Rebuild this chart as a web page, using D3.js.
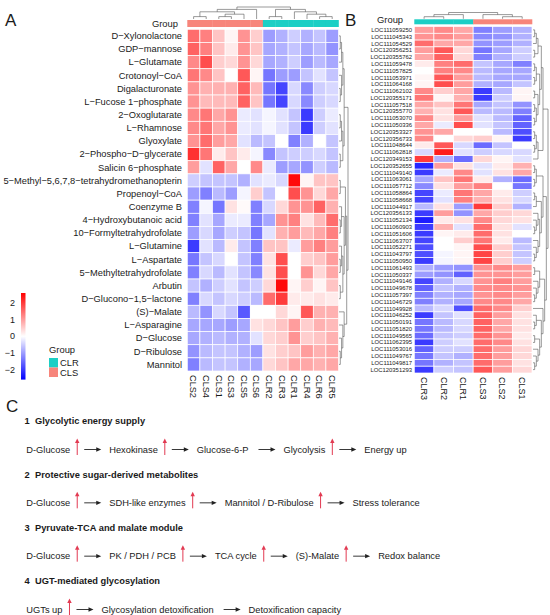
<!DOCTYPE html>
<html>
<head>
<meta charset="utf-8">
<script src="https://cdn.jsdelivr.net/npm/d3@7"></script>
<style>
  body { margin: 0; background: #fff; }
  text { font-family: "Liberation Sans", Arial, Helvetica, sans-serif; fill: #1a1a1a; }
</style>
</head>
<body>
<script>
// ---- panel A: metabolites ----
const aRows = ["D-Xylonolactone","GDP-mannose","L-Glutamate","Crotonoyl-CoA","Digalacturonate",
  "L-Fucose 1-phosphate","2-Oxoglutarate","L-Rhamnose","Glyoxylate","2-Phospho-D-glycerate",
  "Salicin 6-phosphate","5-Methyl-5,6,7,8-tetrahydromethanopterin","Propenoyl-CoA","Coenzyme B",
  "4-Hydroxybutanoic acid","10-Formyltetrahydrofolate","L-Glutamine","L-Aspartate",
  "5-Methyltetrahydrofolate","Arbutin","D-Glucono-1,5-lactone","(S)-Malate","L-Asparagine",
  "D-Glucose","D-Ribulose","Mannitol"];
const aCols = ["CLS2","CLS4","CLS1","CLS3","CLS5","CLS6","CLR2","CLR3","CLR1","CLR4","CLR6","CLR5"];
const aValues = [
  [1.5,1.3,0.6,0.1,1.1,0.5,-1.0,-0.8,-0.5,-0.8,-0.6,-1.0],
  [1.6,1.3,0.6,0.2,1.1,0.6,-0.9,-0.8,-0.6,-0.9,-0.7,-1.1],
  [1.2,1.8,0.5,0.4,1.1,0.4,-0.9,-0.8,-0.5,-1.0,-0.7,-0.9],
  [1.4,1.2,0.6,0.0,1.7,0.1,-1.4,-1.0,-1.0,-0.6,-0.3,-0.6],
  [1.1,0.8,0.8,0.8,1.6,0.7,-1.4,-1.9,-0.4,-1.2,-0.5,-0.4],
  [1.1,0.7,0.7,0.7,1.6,0.6,-1.4,-1.9,-0.4,-1.2,-0.5,-0.4],
  [1.2,1.4,0.9,1.1,-0.2,-0.3,-0.1,-0.3,-0.6,-2.0,-0.5,-0.2],
  [1.2,1.4,0.9,1.1,-0.2,-0.3,-0.1,-0.3,-0.6,-2.0,-0.5,-0.3],
  [1.1,1.5,1.0,0.9,-0.3,-0.7,-0.6,0.0,-1.3,-0.8,0.0,-0.6],
  [2.1,1.4,0.2,0.6,0.2,-0.1,-1.2,-0.6,-0.5,-0.5,-0.4,-0.6],
  [1.0,-0.3,1.6,0.9,0.0,1.2,-0.2,-1.0,-0.9,-1.1,-0.5,-0.7],
  [-0.5,-0.6,-0.6,-0.6,-0.8,-0.3,-0.2,-0.4,2.5,0.1,0.6,0.6],
  [-1.0,-1.3,-0.7,-1.0,-0.1,0.5,-0.6,0.0,1.8,1.1,0.4,0.9],
  [-1.3,-0.1,-1.4,0.3,0.05,-1.3,-0.4,0.4,1.1,1.1,1.6,0.8],
  [-1.3,-0.3,-0.9,-0.2,-0.2,-1.3,-0.9,1.1,1.3,0.3,0.7,1.5],
  [-1.0,-0.4,-0.9,-0.5,-0.6,-1.4,-0.3,0.8,1.0,0.7,0.9,1.3],
  [-2.0,-0.3,-0.7,0.2,-0.6,-1.3,0.6,0.6,-0.2,1.0,1.3,1.0],
  [-1.4,-0.6,-0.4,0.0,-0.6,-1.3,0.3,1.8,0.0,0.5,0.6,1.0],
  [-1.3,-0.4,-0.7,-0.3,-0.6,-1.2,0.3,1.8,0.0,1.1,0.4,0.9],
  [-0.6,-0.8,-0.5,-0.3,-0.6,-0.5,0.4,2.5,0.1,0.5,0.1,0.6],
  [-1.3,-0.4,-0.6,-0.4,-0.5,-0.7,1.5,2.0,0.2,0.2,0.3,0.2],
  [-0.7,-1.1,-0.4,-0.6,-1.7,0.0,0.0,0.4,0.1,1.7,0.8,0.8],
  [-0.9,-0.9,-0.9,-1.0,-0.9,0.3,0.4,0.6,1.0,0.5,0.8,0.7],
  [-0.9,-0.8,-0.7,-0.8,-0.8,-0.3,0.4,0.5,1.1,0.5,0.6,0.8],
  [-1.1,-0.7,-0.6,-0.6,-0.8,-1.0,0.3,0.5,0.6,1.0,0.8,0.9],
  [-1.3,-0.7,-0.6,-0.6,-0.8,-0.9,0.4,0.6,0.9,0.9,0.8,0.9]
];
// cluster trees (nested pairs, leaves are column names / row indices)
const aColTree = [[[["CLS2","CLS4"],[["CLS1","CLS3"],"CLS5"]],"CLS6"],
                  [["CLR2","CLR3"],["CLR1",["CLR4",["CLR6","CLR5"]]]]];
const aRowTree = [[[[[0,1],2],[3,[4,5]]],[[[6,7],8],[9,10]]],
                  [[[11,12],[[13,[14,15]],[[16,[17,18]],[19,20]]]],[21,[22,[23,[24,25]]]]]];

// ---- panel B: genes ----
const bRows = ["LOC111059250","LOC111045343","LOC111054529","LOC120356251","LOC120355762",
  "LOC111059478","LOC111057825","LOC111053971","LOC111064168","LOC111062102","LOC120355171",
  "LOC111057518","LOC120355770","LOC111053070","LOC111050336","LOC120353327","LOC120356733",
  "LOC111048644","LOC111062818","LOC120349153","LOC120352655","LOC111049140","LOC111063061",
  "LOC111057712","LOC111058864","LOC111058668","LOC111044917","LOC120356133","LOC111052134",
  "LOC111060903","LOC111051606","LOC111063707","LOC111052271","LOC111043797","LOC111050950",
  "LOC111061493","LOC111050337","LOC111049146","LOC111049678","LOC111057397","LOC111046729",
  "LOC111049928","LOC111046252","LOC111050191","LOC111051820","LOC111049565","LOC111062395",
  "LOC111053016","LOC111049767","LOC111049817","LOC120351293"];
const bCols = ["CLR3","CLR2","CLR1","CLS3","CLS2","CLS1"];
const bValues = [
  [1.0,1.2,0.9,-1.3,-1.0,-0.8],[1.1,1.2,1.0,-1.2,-1.1,-0.8],[1.5,0.9,0.9,-1.1,-1.0,-0.8],
  [1.0,1.7,0.4,-1.4,-0.9,-0.5],[0.9,1.6,0.4,-1.3,-0.8,-0.5],[0.2,1.3,1.5,-0.6,-0.9,-1.3],
  [0.0,1.3,1.2,-0.7,-0.9,-0.9],[0.1,1.7,1.0,-0.7,-0.9,-0.9],[0.1,1.8,1.0,-0.8,-0.9,-0.6],
  [1.2,0.5,0.9,-2.0,-0.7,0.1],[1.4,0.1,0.8,-2.0,-0.5,0.1],[0.9,0.6,1.4,-0.9,-0.6,-1.1],
  [0.8,0.3,1.7,-0.7,-0.7,-1.3],[1.2,0.3,1.0,-0.3,-0.7,-1.6],[0.9,-0.2,1.8,-0.3,-0.6,-1.6],
  [1.1,0.9,0.0,0.0,-0.7,-1.8],[1.2,0.0,0.4,0.5,0.1,-2.0],[0.2,1.7,-0.4,-1.5,-0.6,0.0],
  [-0.4,2.3,-0.3,-0.5,-0.4,-0.4],[2.0,-0.8,-1.5,0.4,0.1,-0.3],[-2.2,1.0,0.3,-0.3,0.2,0.8],
  [-2.0,-0.2,1.2,-0.3,0.3,0.9],[-0.9,0.6,1.4,0.2,-0.8,-1.5],[-1.2,0.3,1.0,1.3,0.0,-1.4],
  [-1.9,-0.2,1.4,0.9,0.2,-0.5],[-1.9,-0.3,1.3,0.8,0.3,-0.4],[-0.7,0.3,-1.0,2.0,0.5,-0.8],
  [-2.0,1.0,-1.1,0.9,0.5,0.4],[-2.3,0.2,0.3,1.2,0.4,0.3],[-2.0,0.8,-0.3,1.5,0.3,-0.3],
  [-2.0,0.1,0.2,1.5,0.3,0.0],[-1.9,0.0,0.5,1.4,0.2,-0.7],[-1.8,0.0,0.1,1.8,0.5,-0.6],
  [-1.8,-0.1,0.1,1.9,0.5,-0.6],[-2.0,-0.1,0.1,1.9,0.5,-0.5],[-0.8,-1.0,-1.1,1.1,1.2,1.0],
  [-1.0,-1.1,-1.6,1.1,1.1,1.0],[-1.9,-0.8,-0.4,1.1,1.3,1.0],[-1.6,-0.6,-0.8,1.2,1.2,1.1],
  [-1.3,-0.8,-0.9,1.1,1.2,1.0],[-1.3,-0.8,-0.9,1.2,1.2,0.9],[-0.7,-0.4,-1.8,1.5,1.2,0.5],
  [-2.0,-0.6,-0.3,1.6,1.0,0.3],[-1.4,-0.7,-0.4,1.6,0.9,0.3],[-1.4,-0.7,-0.4,1.6,0.9,0.3],
  [-1.5,-0.6,-0.5,1.5,1.1,0.2],[-2.0,-0.5,-0.3,1.5,1.2,0.3],[-1.6,-0.5,-0.5,1.5,1.0,0.4],
  [-1.4,-0.6,-0.8,1.5,1.0,0.4],[-1.4,-0.8,-0.6,1.5,1.0,0.3],[-2.0,-0.5,-0.6,1.7,1.0,0.4]
];
const bColTree = [[["CLR3","CLR2"],"CLR1"],["CLS3",["CLS2","CLS1"]]];
const bRowTree = [
  [[[[[0,1],2],[3,4]],[[[5,6],[7,8]],[[9,10],[[11,12],[13,14]]]]], [[[15,16],[17,18]],19]],
  [[[[20,21],[22,23]],[[[24,25],26],[[27,[28,[29,30]]],[31,[32,[33,34]]]]]],
   [[[35,36],[37,[38,[39,40]]]],[41,[[42,[43,44]],[[45,46],[47,[48,[49,50]]]]]]]]
];

// ---- legend ----
const legendTicks = [2, 1, 0, -1, -2];
const groups = ["CLR", "CLS"];

// ---- panel C ----
const pathways = [
  { title: "Glycolytic energy supply",
    steps: [["D-Glucose", true], ["Hexokinase", true], ["Glucose-6-P", false], ["Glycolysis", true], ["Energy up", false]] },
  { title: "Protective sugar-derived metabolites",
    steps: [["D-Glucose", true], ["SDH-like enzymes", true], ["Mannitol / D-Ribulose", true], ["Stress tolerance", false]] },
  { title: "Pyruvate-TCA and malate module",
    steps: [["D-Glucose", true], ["PK / PDH / PCB", true], ["TCA cycle", true], ["(S)-Malate", true], ["Redox balance", false]] },
  { title: "UGT-mediated glycosylation",
    steps: [["UGTs up", true], ["Glycosylation detoxification", false], ["Detoxification capacity", false]] }
];

const groupColor = d3.scaleOrdinal().domain(groups).range(["#1ccfc5", "#f7857b"]);
const heat = d3.scaleLinear().domain([-2.6, 0, 2.6]).range(["#0000ff", "#ffffff", "#ff0000"]).clamp(true);
const minus = s => String(s).replace(/-/g, "\u2212");
const grp = c => c.slice(0, 3);

const svg = d3.select("body").append("svg").attr("width", 550).attr("height", 615);

// recursive elbow dendrogram
function dendro(g, tree, pos, hScale, side) {
  const segs = [];
  function walk(n) {
    if (!Array.isArray(n)) return { p: pos(n), h: 0 };
    const kids = n.map(walk);
    const h = d3.max(kids, k => k.h) + 1;
    const ps = kids.map(k => k.p);
    kids.forEach(k => segs.push([k.p, k.h, k.p, h]));
    segs.push([d3.min(ps), h, d3.max(ps), h]);
    return { p: (d3.min(ps) + d3.max(ps)) / 2, h };
  }
  const root = walk(tree);
  hScale.domain([0, root.h]);
  g.selectAll("line").data(segs).join("line")
    .attr("x1", d => side === "top" ? d[0] : hScale(d[1]))
    .attr("y1", d => side === "top" ? hScale(d[1]) : d[0])
    .attr("x2", d => side === "top" ? d[2] : hScale(d[3]))
    .attr("y2", d => side === "top" ? hScale(d[3]) : d[2])
    .attr("stroke", "#555").attr("stroke-width", 0.6);
}

function heatmap(opts) {
  const { rows, cols, values, x, y, barY, barH, labelFont, rowFont, colTree, rowTree, colH, rowH, rowLabelX } = opts;
  const g = svg.append("g");
  const cells = values.flatMap((r, i) => r.map((v, j) => ({ i, j, v })));
  g.selectAll("rect.cell").data(cells).join("rect").attr("class", "cell")
    .attr("x", d => x(cols[d.j])).attr("y", d => y(d.i))
    .attr("width", x.bandwidth()).attr("height", y.bandwidth())
    .attr("fill", d => heat(d.v)).attr("stroke", "#ffffff").attr("stroke-width", 0.7);
  g.selectAll("rect.bar").data(cols).join("rect").attr("class", "bar")
    .attr("x", c => x(c)).attr("y", barY).attr("width", x.bandwidth() + 0.3).attr("height", barH)
    .attr("fill", c => groupColor(grp(c)));
  g.selectAll("text.row").data(rows).join("text").attr("class", "row")
    .attr("x", rowLabelX).attr("y", (d, i) => y(i) + y.bandwidth() / 2).attr("dy", "0.35em")
    .attr("text-anchor", "end").style("font-size", rowFont + "px").text(d => minus(d));
  g.selectAll("text.col").data(cols).join("text").attr("class", "col")
    .attr("transform", c => `translate(${x(c) + x.bandwidth() / 2},${y.range()[1] + 4}) rotate(90)`)
    .attr("dy", "0.35em").style("font-size", labelFont + "px").text(c => c);
  dendro(g.append("g"), colTree, c => x(c) + x.bandwidth() / 2, colH, "top");
  dendro(g.append("g"), rowTree, i => y(i) + y.bandwidth() / 2, rowH, "right");
  return g;
}

// Panel A
const xA = d3.scaleBand().domain(aCols).range([187.3, 338.5]);
const yA = d3.scaleBand().domain(d3.range(aRows.length)).range([29.3, 371]);
heatmap({ rows: aRows, cols: aCols, values: aValues, x: xA, y: yA, barY: 20, barH: 7,
  labelFont: 9.2, rowFont: 9.3, colTree: aColTree, rowTree: aRowTree,
  colH: d3.scaleLinear().range([19, 7]), rowH: d3.scaleLinear().range([339, 348]), rowLabelX: 182 });
svg.append("text").attr("x", 178).attr("y", 24).attr("dy", "0.35em").attr("text-anchor", "end")
  .style("font-size", "9.4px").text("Group");

// Panel B
const xB = d3.scaleBand().domain(bCols).range([414.3, 532]);
const yB = d3.scaleBand().domain(d3.range(bRows.length)).range([26.5, 373]);
heatmap({ rows: bRows, cols: bCols, values: bValues, x: xB, y: yB, barY: 19.3, barH: 5,
  labelFont: 9.0, rowFont: 5.9, colTree: bColTree, rowTree: bRowTree,
  colH: d3.scaleLinear().range([18.8, 12.5]), rowH: d3.scaleLinear().range([533, 548]), rowLabelX: 412 });
svg.append("text").attr("x", 377).attr("y", 20).attr("dy", "0.35em")
  .style("font-size", "9.4px").text("Group");

// colour bar
const ly = d3.scaleLinear().domain([2, -2]).range([303, 369.6]);
const grad = svg.append("defs").append("linearGradient").attr("id", "cb")
  .attr("x1", 0).attr("y1", 0).attr("x2", 0).attr("y2", 1);
grad.selectAll("stop").data([2.6, 0, -2.6]).join("stop")
  .attr("offset", (d, i) => i / 2).attr("stop-color", d => heat(d));
svg.append("rect").attr("x", 21).attr("y", ly(2.6)).attr("width", 4.5)
  .attr("height", ly(-2.6) - ly(2.6)).attr("fill", "url(#cb)");
svg.selectAll("text.tick").data(legendTicks).join("text").attr("class", "tick")
  .attr("x", 15).attr("y", d => ly(d)).attr("dy", "0.35em").attr("text-anchor", "end")
  .style("font-size", "9px").text(d => minus(d));

// group legend
svg.append("text").attr("x", 49).attr("y", 350).attr("dy", "0.35em").style("font-size", "9.4px").text("Group");
const gy = d3.scaleBand().domain(groups).range([358, 377]);
svg.selectAll("rect.leg").data(groups).join("rect").attr("class", "leg")
  .attr("x", 49).attr("y", d => gy(d)).attr("width", 9).attr("height", gy.bandwidth())
  .attr("fill", d => groupColor(d));
svg.selectAll("text.leg").data(groups).join("text").attr("class", "leg")
  .attr("x", 60).attr("y", d => gy(d) + gy.bandwidth() / 2).attr("dy", "0.35em")
  .style("font-size", "9.4px").text(d => d);

// panel letters
svg.selectAll("text.panel").data([["A", 5, 26], ["B", 345, 26], ["C", 6, 412]]).join("text")
  .attr("class", "panel").attr("x", d => d[1]).attr("y", d => d[2])
  .style("font-size", "17px").text(d => d[0]);

// Panel C: pathway schematics
const hy = d3.scalePoint().domain(d3.range(pathways.length)).range([421, 581]);
const red = "#e23a52";
pathways.forEach((pw, i) => {
  const g = svg.append("g");
  g.append("text").attr("x", 24.5).attr("y", hy(i)).attr("dy", "0.35em")
    .style("font-size", "9.3px").style("font-weight", "bold").text(i + 1);
  g.append("text").attr("x", 35).attr("y", hy(i)).attr("dy", "0.35em")
    .style("font-size", "9.3px").style("font-weight", "bold").text(pw.title);
  const ry = hy(i) + 28.5;
  let cx = 26.3;
  pw.steps.forEach(([label, up], j) => {
    const t = g.append("text").attr("x", cx).attr("y", ry).attr("dy", "0.35em")
      .style("font-size", "9.3px").text(label);
    cx += t.node().getComputedTextLength();
    if (up) {
      cx += 7;
      g.append("line").attr("x1", cx).attr("x2", cx).attr("y1", ry + 5.5).attr("y2", ry - 7)
        .attr("stroke", red).attr("stroke-width", 1);
      g.append("path").attr("d", `M${cx - 2.2},${ry - 6.5}L${cx},${ry - 11}L${cx + 2.2},${ry - 6.5}Z`)
        .attr("fill", red);
      cx += 7;
    } else {
      cx += 10;
    }
    if (j < pw.steps.length - 1) {
      g.append("line").attr("x1", cx).attr("x2", cx + 13).attr("y1", ry).attr("y2", ry)
        .attr("stroke", "#222").attr("stroke-width", 0.9);
      g.append("path").attr("d", `M${cx + 12},${ry - 2.2}L${cx + 17},${ry}L${cx + 12},${ry + 2.2}Z`)
        .attr("fill", "#222");
      cx += 17 + 8;
    }
  });
});
</script>
</body>
</html>
